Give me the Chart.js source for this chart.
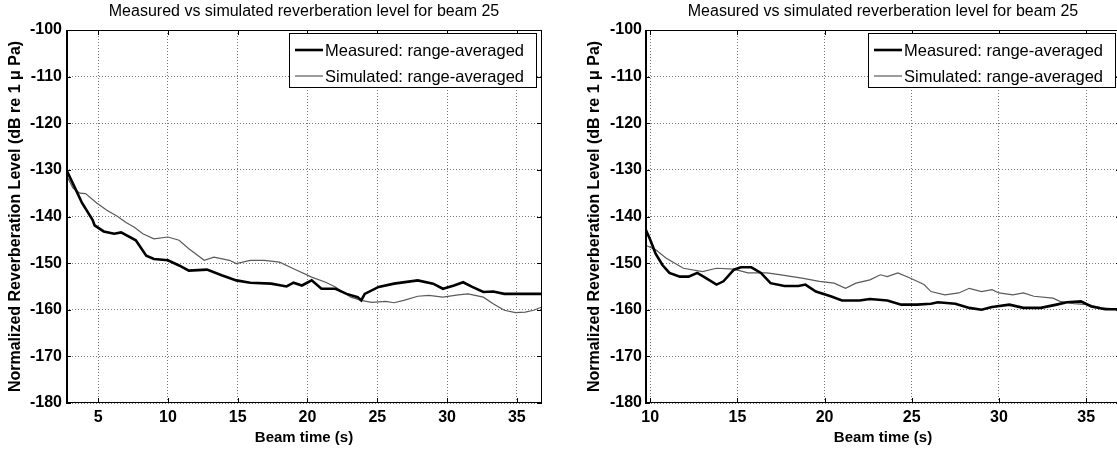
<!DOCTYPE html>
<html>
<head>
<meta charset="utf-8">
<script src="https://cdn.jsdelivr.net/npm/chart.js@4.4.0/dist/chart.umd.min.js"></script>
<style>
  html, body { margin: 0; padding: 0; background: #fff; overflow: hidden; }
  #wrap { position: relative; width: 1117px; height: 455px; overflow: hidden; }
  canvas { position: absolute; top: 0; }
  #left { left: 0; }
  #right { left: 560px; }
</style>
</head>
<body>
<div id="wrap">
  <canvas id="left" width="560" height="455"></canvas>
  <canvas id="right" width="565" height="455"></canvas>
</div>
<script>
// labels
const titleText = 'Measured vs simulated reverberation level for beam 25';
const xLabel = 'Beam time (s)';
const yLabel = 'Normalized Reverberation Level (dB re 1 \u03bc Pa)';
const seriesNames = ['Measured: range-averaged', 'Simulated: range-averaged'];

// tick values
const yTicks = [-180, -170, -160, -150, -140, -130, -120, -110, -100];
const leftXTicks = [5, 10, 15, 20, 25, 30, 35];
const rightXTicks = [10, 15, 20, 25, 30, 35];

// left panel, measured (thick)
const leftMeasX = [2.7, 3.3, 3.85, 4.6, 4.75, 5.4, 6.15, 6.65, 7.7, 8.45, 9.0, 10.0, 10.8, 11.5, 12.8, 13.85, 14.9, 15.9, 17.4, 18.5, 19.0, 19.6, 20.3, 21.0, 22.0, 22.8, 23.6, 23.85, 24.1, 25.1, 26.2, 27.9, 29.0, 29.7, 30.5, 31.15, 31.8, 32.6, 33.3, 34.1, 34.9, 35.9, 36.8];
const leftMeasY = [-129.8, -133.6, -137.1, -140.7, -141.9, -143.2, -143.7, -143.4, -145.1, -148.4, -149.1, -149.4, -150.5, -151.6, -151.4, -152.6, -153.7, -154.2, -154.4, -155.0, -154.2, -154.8, -153.7, -155.5, -155.5, -156.6, -157.3, -158.0, -156.6, -155.1, -154.4, -153.7, -154.4, -155.5, -154.8, -154.1, -155.1, -156.2, -156.1, -156.6, -156.6, -156.6, -156.6];

// left panel, simulated (thin)
const leftSimX = [2.7, 3.2, 3.7, 4.1, 4.9, 5.6, 6.4, 7.0, 7.6, 8.2, 9.0, 10.0, 10.8, 11.5, 12.6, 13.3, 14.4, 14.9, 15.9, 16.9, 18.0, 19.0, 20.3, 21.3, 22.0, 23.1, 23.85, 24.6, 25.6, 26.2, 26.9, 27.9, 28.7, 29.7, 30.8, 31.5, 32.6, 33.3, 34.1, 34.9, 35.6, 36.2, 36.8];
const leftSimY = [-131.0, -133.9, -135.0, -135.1, -137.1, -138.6, -140.0, -141.3, -142.3, -143.7, -144.8, -144.4, -145.1, -146.9, -149.4, -148.7, -149.4, -150.1, -149.4, -149.4, -149.8, -151.2, -153.0, -154.1, -155.1, -157.3, -158.0, -158.4, -158.2, -158.5, -158.0, -157.1, -156.9, -157.3, -156.8, -156.6, -157.3, -158.7, -160.1, -160.6, -160.5, -160.1, -159.4];

// right panel, measured (thick)
const rightMeasX = [9.7, 10.0, 10.3, 10.7, 11.1, 11.7, 12.2, 12.7, 13.2, 13.8, 14.2, 14.8, 15.2, 15.8, 16.35, 16.9, 17.7, 18.5, 18.9, 19.5, 20.35, 21.0, 22.0, 22.6, 23.6, 24.4, 25.3, 26.1, 26.5, 27.5, 28.3, 29.0, 29.6, 30.6, 31.4, 32.4, 33.3, 33.9, 34.7, 35.3, 36.1, 37.0];
const rightMeasY = [-142.5, -145.0, -147.9, -150.4, -152.1, -152.9, -152.9, -152.1, -153.2, -154.6, -153.9, -151.4, -150.9, -150.9, -152.1, -154.3, -154.9, -154.9, -154.6, -156.1, -157.1, -158.0, -158.0, -157.7, -158.0, -158.9, -158.9, -158.7, -158.4, -158.7, -159.6, -160.0, -159.4, -158.9, -159.6, -159.6, -158.9, -158.4, -158.2, -159.3, -159.9, -159.9];

// right panel, simulated (thin)
const rightSimX = [9.7, 10.3, 10.9, 11.9, 13.0, 13.8, 14.8, 15.6, 16.7, 17.5, 18.7, 19.7, 20.55, 21.2, 21.8, 22.6, 23.2, 23.6, 24.2, 24.9, 25.3, 25.7, 26.1, 26.9, 27.7, 28.3, 29.0, 29.6, 30.0, 30.8, 31.4, 32.0, 33.1, 33.5, 34.3, 35.1, 35.9, 37.0];
const rightSimY = [-146.1, -147.1, -148.9, -151.1, -151.8, -151.1, -151.3, -152.1, -152.1, -152.5, -153.2, -153.9, -154.3, -155.4, -154.3, -153.6, -152.5, -152.9, -152.1, -153.2, -153.9, -154.6, -156.1, -156.8, -156.4, -155.4, -156.1, -155.7, -156.4, -156.8, -156.4, -157.1, -157.5, -158.2, -158.7, -158.9, -159.6, -159.9];

Chart.defaults.font.family = "'Liberation Sans', Arial, Helvetica, sans-serif";
Chart.defaults.color = '#000';

function pairs(xs, ys) {
    return xs.map((x, i) => ({ x: x, y: ys[i] }));
}

// box around the axes, inward ticks and the boxed legend
const framePlugin = {
    id: 'frame',
    afterDatasetsDraw(chart) {
        const ctx = chart.ctx;
        const a = chart.chartArea;
        const sx = chart.scales.x;
        const sy = chart.scales.y;
        ctx.save();
        ctx.strokeStyle = '#000';
        ctx.lineWidth = 1;
        ctx.strokeRect(a.left + 0.5, a.top + 0.5, a.right - a.left - 1, a.bottom - a.top - 1);
        ctx.lineWidth = 2;
        ctx.beginPath();
        ctx.moveTo(a.left + 1, a.top);
        ctx.lineTo(a.left + 1, a.bottom);
        ctx.stroke();

        ctx.lineWidth = 1;
        ctx.beginPath();
        sx.ticks.forEach(t => {
            const px = Math.round(sx.getPixelForValue(t.value)) + 0.5;
            ctx.moveTo(px, a.bottom); ctx.lineTo(px, a.bottom - 5);
            ctx.moveTo(px, a.top); ctx.lineTo(px, a.top + 5);
        });
        sy.ticks.forEach(t => {
            const py = Math.round(sy.getPixelForValue(t.value)) + 0.5;
            ctx.moveTo(a.left, py); ctx.lineTo(a.left + 5, py);
            ctx.moveTo(a.right, py); ctx.lineTo(a.right - 5, py);
        });
        ctx.stroke();

        // legend
        const boxW = 247, boxH = 54;
        const bx = a.right - 6 - boxW;
        const by = a.top + 3;
        ctx.fillStyle = '#fff';
        ctx.fillRect(bx, by, boxW, boxH);
        ctx.strokeStyle = '#000';
        ctx.lineWidth = 1;
        ctx.strokeRect(bx + 0.5, by + 0.5, boxW, boxH);
        ctx.font = "16.5px 'Liberation Sans', Arial, sans-serif";
        ctx.textBaseline = 'middle';
        ctx.textAlign = 'left';
        chart.data.datasets.forEach((ds, i) => {
            const ry = by + 17 + i * 26;
            ctx.strokeStyle = ds.borderColor;
            ctx.lineWidth = ds.borderWidth;
            ctx.beginPath();
            ctx.moveTo(bx + 6, ry);
            ctx.lineTo(bx + 34, ry);
            ctx.stroke();
            ctx.fillStyle = '#000';
            ctx.fillText(ds.label, bx + 36, ry + 1);
        });
        ctx.restore();
    }
};

function makeChart(id, opts) {
    return new Chart(document.getElementById(id), {
        type: 'line',
        data: {
            datasets: [{
                label: seriesNames[0],
                data: pairs(opts.measX, opts.measY),
                borderColor: '#000',
                borderWidth: 2.6,
                pointRadius: 0,
                tension: 0
            }, {
                label: seriesNames[1],
                data: pairs(opts.simX, opts.simY),
                borderColor: '#5a5a5a',
                borderWidth: 1.2,
                pointRadius: 0,
                tension: 0
            }]
        },
        options: {
            responsive: false,
            animation: false,
            devicePixelRatio: 1,
            layout: { padding: { left: 0, top: 0, right: opts.padRight, bottom: 0 } },
            plugins: {
                legend: { display: false },
                tooltip: { enabled: false },
                title: {
                    display: true,
                    text: titleText,
                    fullSize: false,
                    color: '#000',
                    font: { size: 16, weight: 'normal' },
                    padding: { top: 2.4, bottom: 8.4 }
                }
            },
            scales: {
                x: {
                    type: 'linear',
                    min: opts.xMin,
                    max: opts.xMax,
                    afterBuildTicks: s => { s.ticks = opts.xTicks.map(v => ({ value: v })); },
                    afterFit: s => { s.height = 52; },
                    ticks: { font: { size: 16, weight: 'bold' }, padding: 5, maxRotation: 0, color: '#000' },
                    grid: { color: '#777', lineWidth: 1, drawTicks: false },
                    border: { display: false, dash: [1, 2] },
                    title: {
                        display: true,
                        text: xLabel,
                        color: '#000',
                        font: { size: 15, weight: 'bold' },
                        padding: { top: 0, bottom: 8 }
                    }
                },
                y: {
                    min: -180,
                    max: -100,
                    afterBuildTicks: s => { s.ticks = yTicks.map(v => ({ value: v })); },
                    afterFit: s => { s.width = opts.axisWidth; },
                    ticks: { font: { size: 16, weight: 'bold' }, padding: opts.tickPad, color: '#000' },
                    grid: { color: '#777', lineWidth: 1, drawTicks: false },
                    border: { display: false, dash: [1, 2] },
                    title: {
                        display: true,
                        text: yLabel,
                        color: '#000',
                        font: { size: 16, weight: 'bold' },
                        padding: { top: opts.yTitlePad, bottom: 0 }
                    }
                }
            }
        },
        plugins: [framePlugin]
    });
}

makeChart('left', {
    measX: leftMeasX, measY: leftMeasY, simX: leftSimX, simY: leftSimY,
    xMin: 2.7, xMax: 36.8, xTicks: leftXTicks,
    axisWidth: 66, tickPad: 4, yTitlePad: 6.4, padRight: 18
});

makeChart('right', {
    measX: rightMeasX, measY: rightMeasY, simX: rightSimX, simY: rightSimY,
    xMin: 9.7, xMax: 37.0, xTicks: rightXTicks,
    axisWidth: 85, tickPad: 3, yTitlePad: 25.4, padRight: 4
});
</script>
</body>
</html>
